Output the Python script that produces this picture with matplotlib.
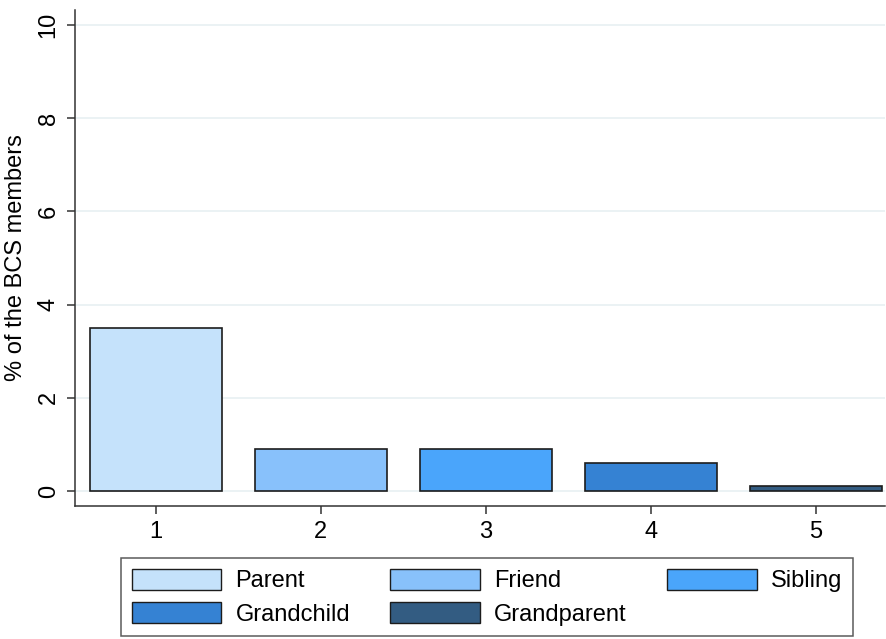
import matplotlib
matplotlib.use("Agg")
import matplotlib.pyplot as plt
from matplotlib.patches import Patch

plt.rcParams['font.family'] = ['Liberation Sans', 'DejaVu Sans']

# Share of BCS members by relationship type
categories = ["Parent", "Friend", "Sibling", "Grandchild", "Grandparent"]
positions = [1, 2, 3, 4, 5]
values = [3.5, 0.9, 0.9, 0.6, 0.1]
colors = ["#c5e2fb", "#88c1fb", "#4aa5fb", "#3582d3", "#335c82"]
y_ticks = [0, 2, 4, 6, 8, 10]

fig = plt.figure(figsize=(8.87, 6.39), dpi=100)
ax = fig.add_axes([75 / 887, 1 - 506 / 639, 810 / 887, 496 / 639])

ax.bar(positions, values, width=0.8, color=colors, edgecolor="#1c1c1c",
       linewidth=1.2, zorder=3)

ax.set_xlim(0.51, 5.42)
ax.set_ylim(-0.32, 10.32)
ax.set_xticks(positions)
ax.set_yticks(y_ticks)
ax.yaxis.grid(True, color="#e8f0f2", linewidth=1.2, zorder=0)
ax.set_axisbelow(True)

for side in ("top", "right"):
    ax.spines[side].set_visible(False)
for side in ("left", "bottom"):
    ax.spines[side].set_color("#333333")
    ax.spines[side].set_linewidth(1.1)

ax.tick_params(axis="both", direction="out", length=6, width=1.1,
               color="#333333", labelsize=17, pad=5)
for lbl in ax.get_yticklabels():
    lbl.set_rotation(90)
    lbl.set_va("center")

ax.set_ylabel("% of the BCS members", fontsize=17, labelpad=8)

# Legend laid out row by row: reorder so column filling gives rows
handles = [Patch(facecolor=c, edgecolor="#1c1c1c", linewidth=1.0) for c in colors]
order = [0, 3, 1, 4, 2]
leg = fig.legend([handles[i] for i in order], [categories[i] for i in order],
                 ncol=3, loc="upper left",
                 bbox_to_anchor=(121 / 887, 1 - 558 / 639),
                 fontsize=17, frameon=True, fancybox=False,
                 edgecolor="#333333", handlelength=3.8, handleheight=1.0,
                 handletextpad=0.6, columnspacing=1.7, labelspacing=0.42,
                 borderpad=0.45, borderaxespad=0)
leg.get_frame().set_linewidth(1.1)

fig.savefig("out.png", dpi=100)
